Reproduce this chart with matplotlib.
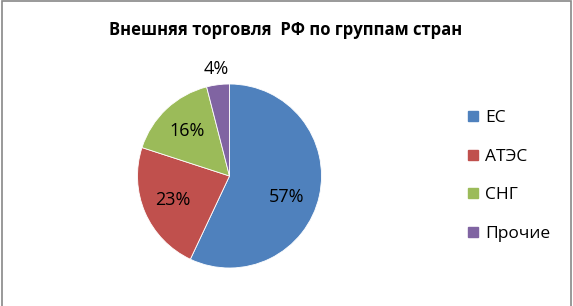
import numpy as np
import matplotlib
matplotlib.use('Agg')
import matplotlib.pyplot as plt
from matplotlib.patches import Rectangle
from matplotlib.lines import Line2D

plt.rcParams['font.family'] = ['Open Sans', 'Noto Sans', 'DejaVu Sans']

# data
groups = ['ЕС', 'АТЭС', 'СНГ', 'Прочие']
shares = [57, 23, 16, 4]
colors = ['#4F81BD', '#C0504D', '#9BBB59', '#8064A2']
title = 'Внешняя торговля  РФ по группам стран'

W, H = 573, 306
fig = plt.figure(figsize=(W / 100, H / 100), dpi=100)

# frame around the chart area (bottom edge is cut off in the original)
fig.patches.append(Rectangle((1.5 / W, -0.1), (571 - 1.5) / W, (H - 0.5) / H + 0.1,
                             transform=fig.transFigure, fill=False,
                             edgecolor='#888888', linewidth=1.2))

# pie axes: center (229, 176) px, radius ~92 px
cx, cy, r = 229.5, 176, 92
ax = fig.add_axes([(cx - r) / W, (H - cy - r) / H, 2 * r / W, 2 * r / H])
wedges, texts, autotexts = ax.pie(shares, colors=colors, startangle=90, counterclock=False,
                                  autopct='%1.0f%%', pctdistance=0.67,
                                  wedgeprops=dict(edgecolor='white', linewidth=0.6),
                                  textprops=dict(fontsize=13, color='black'))
ax.set_xlim(-1, 1)
ax.set_ylim(-1, 1)
ax.set_aspect('equal')
ax.axis('off')

# label placement tweaks (Excel-like): big slice label a bit lower, small one outside
def place(i, dist, dang=0):
    w = wedges[i]
    a = np.deg2rad((w.theta1 + w.theta2) / 2 + dang)
    autotexts[i].set_position((dist * np.cos(a), dist * np.sin(a)))

place(0, 0.66, -8)
place(3, 1.17)
for t in autotexts:
    t.set_ha('center')
    t.set_va('center')

fig.text(286 / W, 1 - 30 / H, title, ha='center', va='center',
         fontsize=12, fontweight='bold')

handles = [Line2D([], [], marker='s', linestyle='none', markersize=7,
                  markerfacecolor=c, markeredgecolor=c) for c in colors]
fig.legend(handles, groups, loc='center left', bbox_to_anchor=(466 / W, 1 - 176 / H),
           frameon=False, fontsize=12.5, labelspacing=1.3, handlelength=0.8,
           handletextpad=0.3, borderpad=0, borderaxespad=0)

fig.savefig('out.png', dpi=100)
